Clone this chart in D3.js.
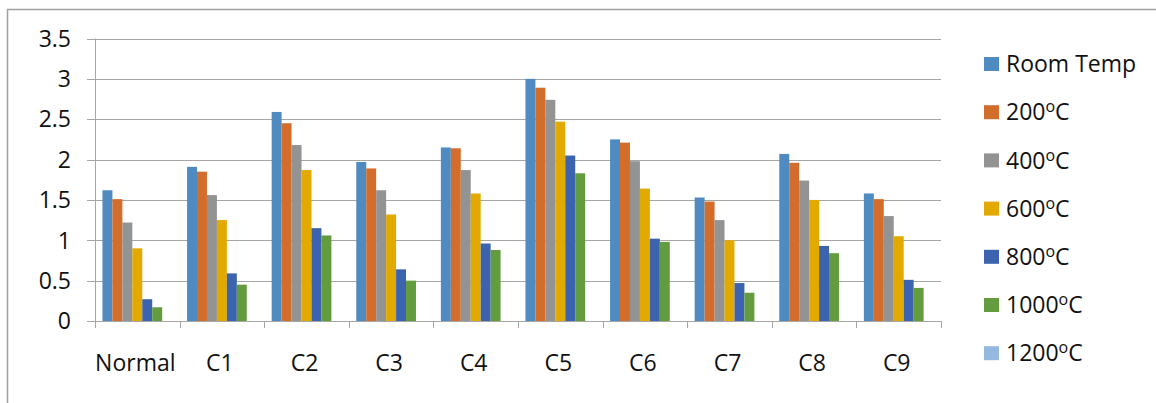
<!DOCTYPE html>
<html>
<head>
<meta charset="utf-8">
<script src="https://cdn.jsdelivr.net/npm/d3@7"></script>
<style>
  body { margin: 0; background: #fff; }
  svg { display: block; font-family: "Open Sans", "Liberation Sans", sans-serif; }
</style>
</head>
<body>
<svg id="chart" width="1156" height="403"></svg>
<script>
// data
var categories = ['Normal', 'C1', 'C2', 'C3', 'C4', 'C5', 'C6', 'C7', 'C8', 'C9'];
var seriesNames = ['Room Temp', '200', '400', '600', '800', '1000', '1200'];
var roomTemp = [1.62, 1.91, 2.59, 1.97, 2.15, 3.0, 2.25, 1.53, 2.07, 1.58];
var t200 = [1.51, 1.85, 2.45, 1.89, 2.14, 2.89, 2.21, 1.48, 1.96, 1.51];
var t400 = [1.22, 1.56, 2.18, 1.62, 1.87, 2.74, 1.98, 1.25, 1.74, 1.30];
var t600 = [0.90, 1.25, 1.87, 1.32, 1.58, 2.47, 1.64, 1.00, 1.50, 1.05];
var t800 = [0.27, 0.59, 1.15, 0.64, 0.96, 2.05, 1.02, 0.47, 0.93, 0.51];
var t1000 = [0.17, 0.45, 1.06, 0.50, 0.88, 1.83, 0.98, 0.35, 0.84, 0.41];
var t1200 = []; // no values in the chart
var yTicks = [0, 0.5, 1, 1.5, 2, 2.5, 3, 3.5];
var colors = ['#4f8bc0', '#d36d2b', '#939393', '#e2aa00', '#3c64ae', '#629c3f', '#95b8e0'];

var allSeries = [roomTemp, t200, t400, t600, t800, t1000, t1200];

var svg = d3.select('#chart');

// outer frame
svg.append('path')
  .attr('d', 'M7.5,403 V9.5 H1156')
  .attr('fill', 'none')
  .attr('stroke', '#a0a0a0')
  .attr('stroke-width', 1.5);

var plotLeft = 95, plotRight = 941, plotTop = 38.5, plotBottom = 321;
var fs = 23;

var x = d3.scaleBand().domain(categories).range([plotLeft, plotRight]);
var y = d3.scaleLinear().domain([0, 3.5]).range([plotBottom, plotTop]);
var bw = x.bandwidth() / 8.5;
var inner = d3.scaleBand().domain(d3.range(seriesNames.length))
  .range([bw * 0.75, bw * 0.75 + bw * 7]);

// gridlines
svg.append('g')
  .selectAll('line')
  .data(yTicks)
  .enter()
  .append('line')
  .attr('x1', plotLeft - 8)
  .attr('x2', plotRight)
  .attr('y1', function(d) { return Math.round(y(d)) + 0.5; })
  .attr('y2', function(d) { return Math.round(y(d)) + 0.5; })
  .attr('stroke', '#a6a6a6')
  .attr('stroke-width', 1);

// y labels
svg.append('g')
  .selectAll('text')
  .data(yTicks)
  .enter()
  .append('text')
  .attr('x', 71)
  .attr('y', function(d) { return y(d); })
  .attr('dy', '0.36em')
  .attr('text-anchor', 'end')
  .attr('font-size', fs)
  .attr('fill', '#111')
  .text(function(d) { return d; });

// bars
allSeries.forEach(function(vals, si) {
  svg.append('g')
    .selectAll('rect')
    .data(vals)
    .enter()
    .append('rect')
    .attr('x', function(d, i) { return x(categories[i]) + inner(si); })
    .attr('width', inner.bandwidth())
    .attr('y', function(d) { return y(d); })
    .attr('height', function(d) { return plotBottom - y(d); })
    .attr('fill', colors[si]);
});

// axes lines and category ticks
svg.append('line')
  .attr('x1', plotLeft + 0.5).attr('x2', plotLeft + 0.5)
  .attr('y1', plotTop).attr('y2', plotBottom + 7)
  .attr('stroke', '#a6a6a6');
svg.append('g')
  .selectAll('line')
  .data(categories.concat(['end']))
  .enter()
  .append('line')
  .attr('x1', function(d, i) { return Math.round(plotLeft + i * x.step()) + 0.5; })
  .attr('x2', function(d, i) { return Math.round(plotLeft + i * x.step()) + 0.5; })
  .attr('y1', plotBottom)
  .attr('y2', plotBottom + 7)
  .attr('stroke', '#a6a6a6');

svg.append('g')
  .selectAll('text')
  .data(categories)
  .enter()
  .append('text')
  .attr('x', function(d) { return x(d) + x.bandwidth() / 2 - 2; })
  .attr('y', 363)
  .attr('dy', '0.36em')
  .attr('text-anchor', 'middle')
  .attr('font-size', fs)
  .attr('fill', '#111')
  .text(function(d) { return d; });

// legend
var legend = svg.append('g')
  .selectAll('g')
  .data(seriesNames)
  .enter()
  .append('g')
  .attr('transform', function(d, i) { return 'translate(984,' + (64 + i * 48.2) + ')'; });

legend.append('rect')
  .attr('x', 0).attr('y', -7)
  .attr('width', 15).attr('height', 14)
  .attr('fill', function(d, i) { return colors[i]; });

var lt = legend.append('text')
  .attr('x', 22)
  .attr('dy', '0.36em')
  .attr('font-size', fs)
  .attr('fill', '#111');

lt.each(function(d, i) {
  var t = d3.select(this);
  if (i === 0) { t.text(d); return; }
  t.append('tspan').text(d);
  t.append('tspan').attr('font-size', 16).attr('dy', -8).text('o');
  t.append('tspan').attr('dy', 8).text('C');
});
</script>
</body>
</html>
